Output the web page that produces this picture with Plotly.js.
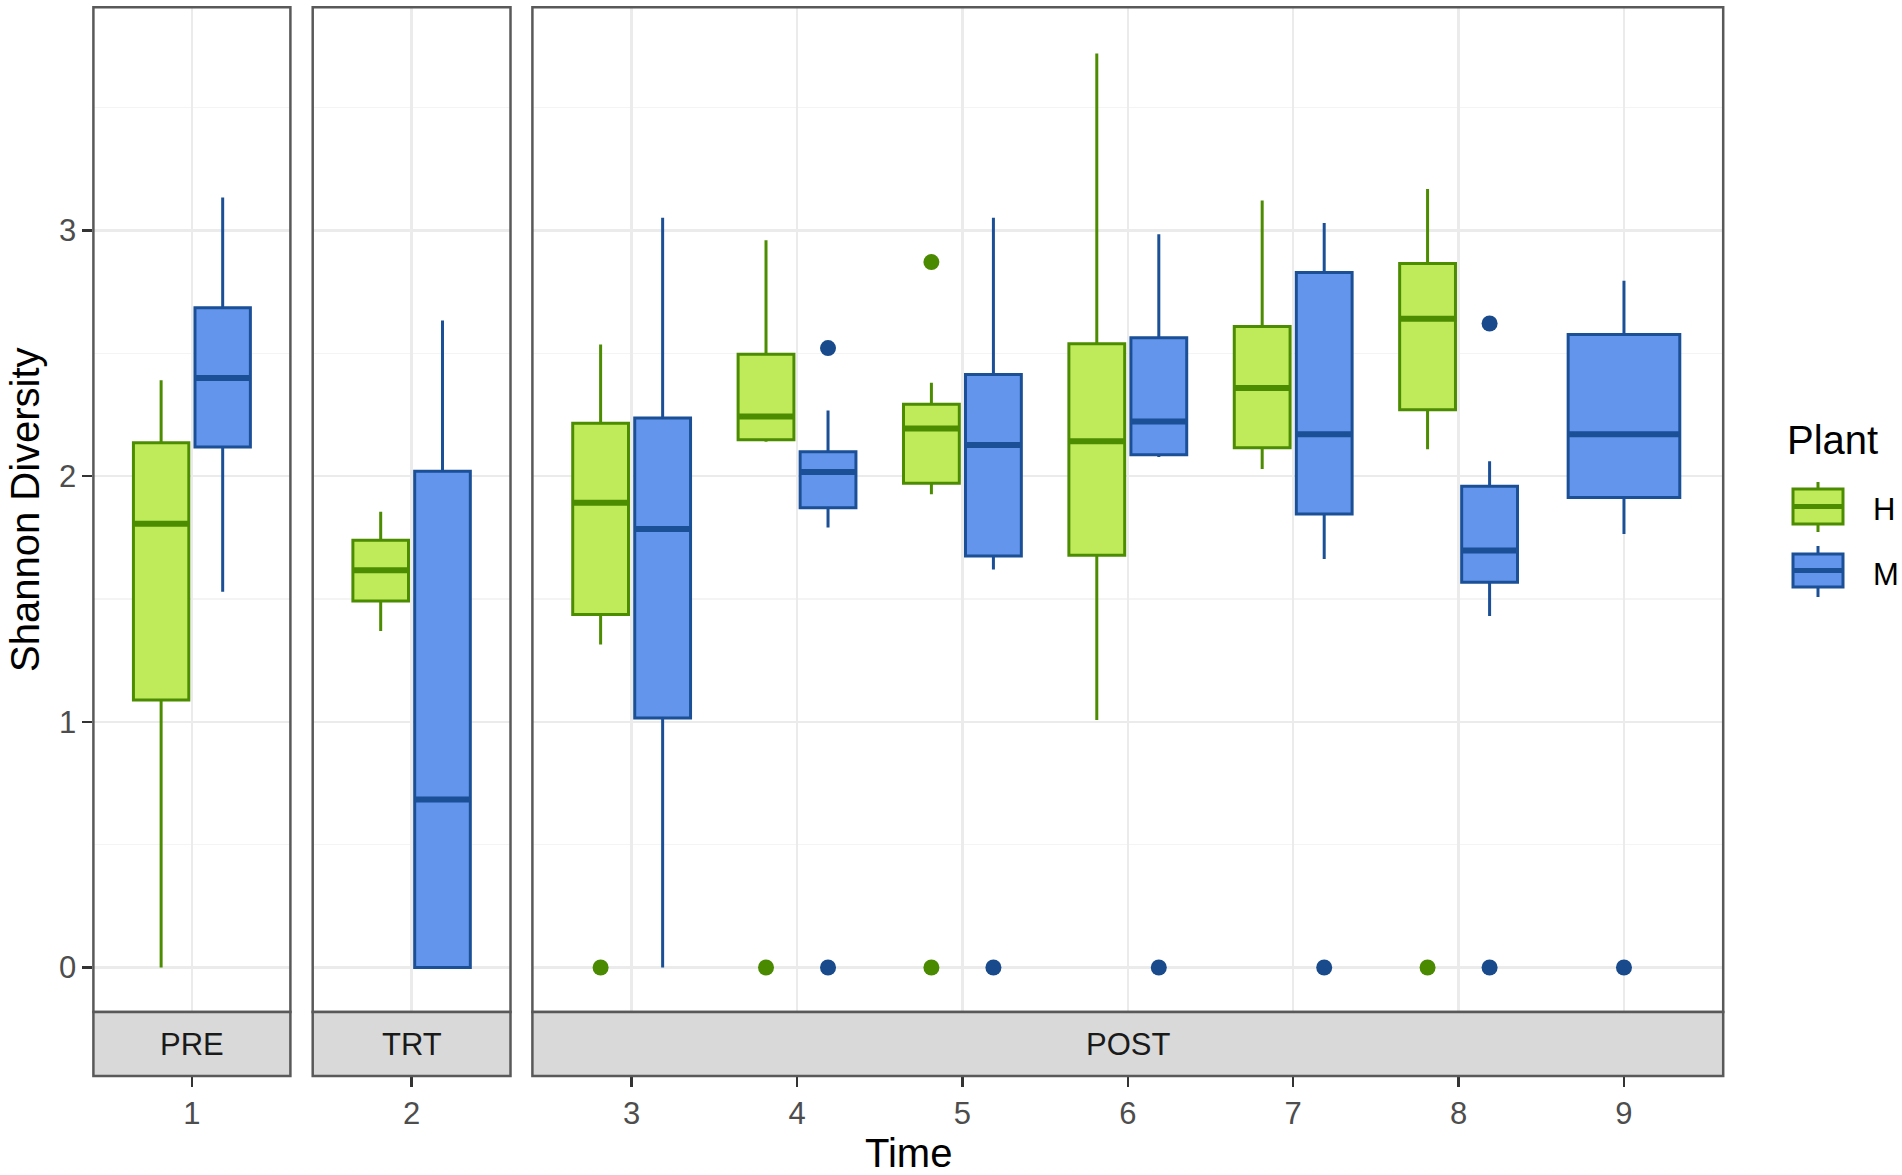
<!DOCTYPE html>
<html>
<head>
<meta charset="utf-8">
<script src="https://cdn.plot.ly/plotly-3.0.1.min.js"></script>
<style>html,body{margin:0;padding:0;background:#fff;}#chart{width:1902px;height:1175px;}</style>
</head>
<body>
<div id="chart"></div>
<script>
// ---- data ----
const time = [1, 2, 3, 4, 5, 6, 7, 8, 9];
const phase = ['PRE', 'TRT', 'POST', 'POST', 'POST', 'POST', 'POST', 'POST', 'POST'];
const facets = ['PRE', 'TRT', 'POST'];
const plants = ['H', 'M'];

const H_lower = [0.000, 1.370, 1.315, 2.140, 1.926, 1.007, 2.029, 2.109, null];
const H_q1    = [1.089, 1.492, 1.437, 2.148, 1.971, 1.678, 2.115, 2.270, null];
const H_med   = [1.806, 1.617, 1.892, 2.243, 2.194, 2.142, 2.359, 2.640, null];
const H_q3    = [2.136, 1.739, 2.215, 2.496, 2.292, 2.539, 2.609, 2.865, null];
const H_upper = [2.390, 1.855, 2.536, 2.960, 2.380, 3.720, 3.122, 3.168, null];
const H_out   = [[], [], [0], [0], [2.871, 0], [], [], [0], []];

const M_lower = [1.529, 0.000, 0.000, 1.791, 1.620, 2.078, 1.663, 1.431, 1.764];
const M_q1    = [2.118, 0.000, 1.016, 1.871, 1.675, 2.087, 1.846, 1.568, 1.913];
const M_med   = [2.399, 0.684, 1.785, 2.017, 2.127, 2.222, 2.170, 1.697, 2.170];
const M_q3    = [2.685, 2.020, 2.237, 2.099, 2.414, 2.563, 2.829, 1.959, 2.576];
const M_upper = [3.134, 2.633, 3.052, 2.267, 3.052, 2.984, 3.030, 2.060, 2.795];
const M_out   = [[], [], [], [2.521, 0], [0], [0], [0], [2.621, 0], [0]];

const yTicks = [0, 1, 2, 3];

// ---- styles ----
const W = 1902, Hh = 1175;
const px = v => v / W;
const py = v => 1 - v / Hh;
const FONT = 'Liberation Sans, Arial, Helvetica, sans-serif';
const style = {
  H: {fill: '#BFEB5B', line: '#4C8C00', pt: '#4A8A00'},
  M: {fill: '#6495ED', line: '#1B4F96', pt: '#184A8C'}
};
const stats = {
  H: {lo: H_lower, q1: H_q1, med: H_med, q3: H_q3, hi: H_upper, out: H_out},
  M: {lo: M_lower, q1: M_q1, med: M_med, q3: M_q3, hi: M_upper, out: M_out}
};
const DODGE = 0.1875, BOXW = 0.3375;
const axisOf = {PRE: ['x', 'y'], TRT: ['x2', 'y2'], POST: ['x3', 'y3']};
const panelPx = {PRE: [93.4, 290.4], TRT: [312.7, 510.5], POST: [532.4, 1723.2]};
const ranges = {PRE: [0.4, 1.6], TRT: [1.4, 2.6], POST: [2.4, 9.6]};
const panelTop = 7.3, panelBottom = 1012, stripBottom = 1076;

function slot(i, p) {
  const both = H_med[i] != null && M_med[i] != null;
  if (!both) return {x: time[i], w: 2 * BOXW};
  return {x: time[i] + (p === 'H' ? -DODGE : DODGE), w: BOXW};
}

const traces = [];
facets.forEach(f => {
  const [xa, ya] = axisOf[f];
  plants.forEach(p => {
    const s = stats[p];
    const idx = time.map((t, i) => i).filter(i => phase[i] === f && s.med[i] != null);
    // group by width so every box trace has a single width
    const widths = [...new Set(idx.map(i => slot(i, p).w))];
    widths.forEach(w => {
      const ii = idx.filter(i => slot(i, p).w === w);
      traces.push({
        type: 'box', xaxis: xa, yaxis: ya, name: p, showlegend: false,
        x: ii.map(i => slot(i, p).x),
        q1: ii.map(i => s.q1[i]), median: ii.map(i => s.med[i]), q3: ii.map(i => s.q3[i]),
        lowerfence: ii.map(i => s.lo[i]), upperfence: ii.map(i => s.hi[i]),
        width: w, whiskerwidth: 0, boxpoints: false,
        fillcolor: style[p].fill, line: {color: style[p].line, width: 3},
        hoverinfo: 'skip'
      });
    });
    // thicker median segments
    const mx = [], my = [];
    idx.forEach(i => {
      const sl = slot(i, p);
      mx.push(sl.x - sl.w / 2, sl.x + sl.w / 2, null);
      my.push(s.med[i], s.med[i], null);
    });
    traces.push({type: 'scatter', mode: 'lines', xaxis: xa, yaxis: ya, showlegend: false,
      x: mx, y: my, line: {color: style[p].line, width: 6}, hoverinfo: 'skip'});
    // outliers
    const ox = [], oy = [];
    idx.forEach(i => s.out[i].forEach(v => { ox.push(slot(i, p).x); oy.push(v); }));
    if (ox.length) traces.push({type: 'scatter', mode: 'markers', xaxis: xa, yaxis: ya, showlegend: false,
      x: ox, y: oy, marker: {color: style[p].pt, size: 16}, hoverinfo: 'skip'});
  });
});

const yDomain = [py(panelBottom), py(panelTop)];
const yRange = [-0.181, 3.908];
const gridMajor = '#EBEBEB', gridMinor = '#F4F4F4';

function xAxis(f) {
  const ticks = time.filter((t, i) => phase[i] === f);
  return {
    domain: [px(panelPx[f][0]), px(panelPx[f][1])], range: ranges[f],
    anchor: 'free', position: py(stripBottom),
    tickvals: ticks, ticktext: ticks.map(String), ticks: 'outside', ticklen: 10, tickwidth: 2.5, tickcolor: '#333333',
    tickfont: {family: FONT, size: 31, color: '#4D4D4D'},
    showgrid: true, gridcolor: gridMajor, gridwidth: 2.5, zeroline: false, showline: false, fixedrange: true
  };
}
function yAxis(f) {
  const base = {
    domain: yDomain, range: yRange, anchor: axisOf[f][0],
    showgrid: true, gridcolor: gridMajor, gridwidth: 2.5, zeroline: false, showline: false,
    tickvals: yTicks,
    minor: {tickvals: [0.5, 1.5, 2.5, 3.5], showgrid: true, gridcolor: gridMinor, gridwidth: 1.5, ticks: ''},
    fixedrange: true
  };
  if (f === 'PRE') {
    Object.assign(base, {ticktext: yTicks.map(String), ticks: 'outside', ticklen: 10, tickwidth: 2.5, tickcolor: '#333333',
      tickfont: {family: FONT, size: 31, color: '#4D4D4D'}});
  } else {
    Object.assign(base, {matches: 'y', showticklabels: false, ticks: ''});
  }
  return base;
}

const shapes = [];
const annotations = [];
facets.forEach(f => {
  const [l, r] = panelPx[f];
  shapes.push({type: 'rect', xref: 'paper', yref: 'paper', x0: px(l), x1: px(r), y0: py(panelBottom), y1: py(panelTop),
    line: {color: '#595959', width: 2.5}, fillcolor: 'rgba(0,0,0,0)', layer: 'above'});
  shapes.push({type: 'rect', xref: 'paper', yref: 'paper', x0: px(l), x1: px(r), y0: py(stripBottom), y1: py(panelBottom),
    line: {color: '#595959', width: 2.5}, fillcolor: '#D9D9D9', layer: 'above'});
  annotations.push({xref: 'paper', yref: 'paper', x: px((l + r) / 2), y: py((panelBottom + stripBottom) / 2),
    text: f, showarrow: false, xanchor: 'center', yanchor: 'middle',
    font: {family: FONT, size: 31, color: '#1A1A1A'}});
});

// axis titles
annotations.push({xref: 'paper', yref: 'paper', x: px(908), y: py(1153), text: 'Time', showarrow: false,
  xanchor: 'center', yanchor: 'middle', font: {family: FONT, size: 40, color: '#000000'}});
annotations.push({xref: 'paper', yref: 'paper', x: px(25), y: py(510), text: 'Shannon Diversity', showarrow: false,
  textangle: -90, xanchor: 'center', yanchor: 'middle', font: {family: FONT, size: 40, color: '#000000'}});

// legend (drawn as keys)
annotations.push({xref: 'paper', yref: 'paper', x: px(1785), y: py(440), text: 'Plant', showarrow: false,
  xanchor: 'left', yanchor: 'middle', font: {family: FONT, size: 40, color: '#000000'}});
const keys = [{p: 'H', top: 489, bot: 524, wt: 482, wb: 532, ty: 510},
              {p: 'M', top: 554, bot: 587, wt: 546, wb: 597, ty: 574}];
keys.forEach(k => {
  const c = style[k.p];
  const kx0 = 1793, kx1 = 1843, kxm = 1818;
  shapes.push({type: 'line', xref: 'paper', yref: 'paper', x0: px(kxm), x1: px(kxm), y0: py(k.wt), y1: py(k.wb),
    line: {color: c.line, width: 3}});
  shapes.push({type: 'rect', xref: 'paper', yref: 'paper', x0: px(kx0), x1: px(kx1), y0: py(k.bot), y1: py(k.top),
    line: {color: c.line, width: 3}, fillcolor: c.fill});
  shapes.push({type: 'line', xref: 'paper', yref: 'paper', x0: px(kx0), x1: px(kx1), y0: py((k.top + k.bot) / 2), y1: py((k.top + k.bot) / 2),
    line: {color: c.line, width: 5}});
  annotations.push({xref: 'paper', yref: 'paper', x: px(1871), y: py(k.ty), text: k.p, showarrow: false,
    xanchor: 'left', yanchor: 'middle', font: {family: FONT, size: 31, color: '#000000'}});
});

const layout = {
  width: W, height: Hh, margin: {l: 0, r: 0, t: 0, b: 0},
  paper_bgcolor: '#FFFFFF', plot_bgcolor: '#FFFFFF',
  showlegend: false, boxmode: 'overlay',
  xaxis: xAxis('PRE'), xaxis2: xAxis('TRT'), xaxis3: xAxis('POST'),
  yaxis: yAxis('PRE'), yaxis2: yAxis('TRT'), yaxis3: yAxis('POST'),
  shapes: shapes, annotations: annotations,
  font: {family: FONT}
};

Plotly.newPlot('chart', traces, layout, {displayModeBar: false, staticPlot: true});
</script>
</body>
</html>
